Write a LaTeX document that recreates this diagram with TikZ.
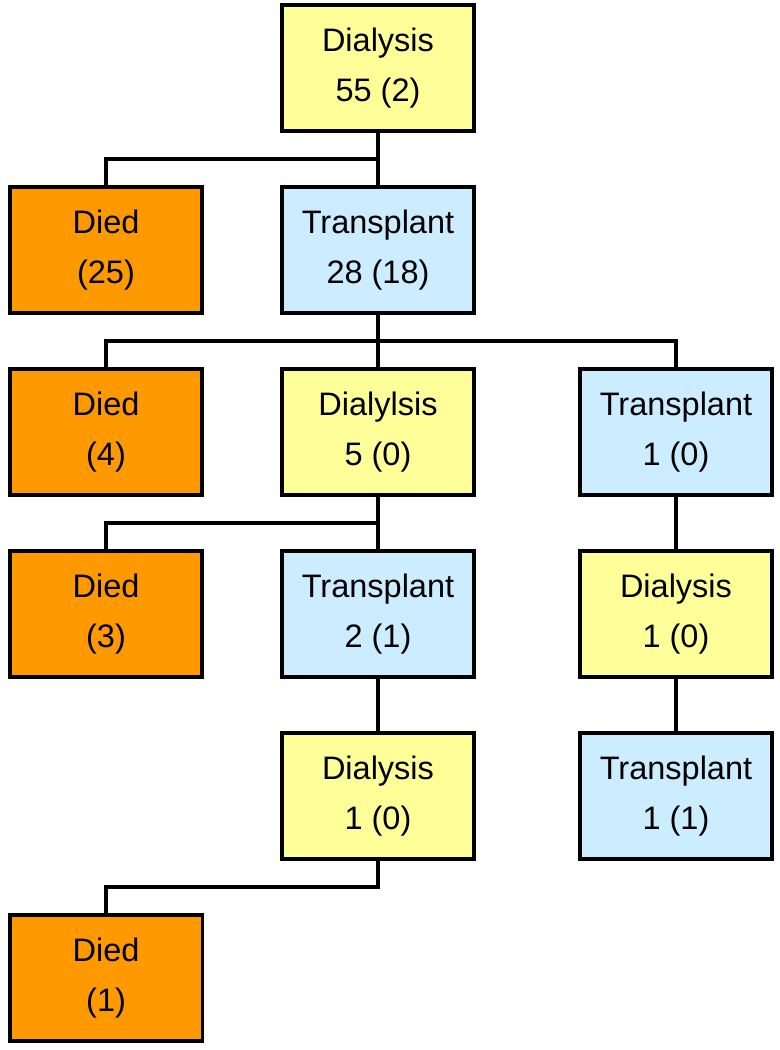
\documentclass[tikz,border=0pt]{standalone}
\usepackage{fontspec}
\setmainfont{Liberation Sans}
\usetikzlibrary{trees}
\definecolor{dialfill}{HTML}{FFFF99}
\definecolor{transfill}{HTML}{CCECFF}
\definecolor{diedfill}{HTML}{FF9900}
\tikzset{
    treenode/.style={align=center, draw=black, line width=2pt, minimum width=3.85cm, minimum height=2.53cm, inner sep=1pt, font=\fontsize{18.5}{28.5}\selectfont},
    dialysis/.style={treenode, fill=dialfill},
    transplant/.style={treenode, fill=transfill},
    died/.style={treenode, fill=diedfill},
    leftgrow/.style={grow via three points={one child at (0,-182) and two children at (-272,-182) and (0,-182)}}
}
\begin{document}
\begin{tikzpicture}[
  x=0.02cm, y=0.02cm,
  leftgrow,
  level 2/.style={grow via three points={one child at (0,-182) and two children at (-136,-182) and (136,-182)}},
  level 3/.style={leftgrow},
  edge from parent/.style={draw, line width=2pt},
  edge from parent path={(\tikzparentnode.south) -- ++(0,-26) -| (\tikzchildnode.north)}]

\useasboundingbox (0,0) rectangle (779,-1050);

\node[dialysis] (root) at (378,-68) {Dialysis\\55 (2)}
    child {node[died] (d1) {Died\\(25)}}
    child {node[transplant] (t1) {Transplant\\28 (18)}
        child {node[died] (d2) {Died\\(4)}}
        child {node[dialysis] (a1) {Dialylsis\\5 (0)}
            child {node[died] (d3) {Died\\(3)}}
            child {node[transplant] (t2) {Transplant\\2 (1)}
                child {node[dialysis] (a2) {Dialysis\\1 (0)}
                    child[xshift=-5.44cm] {node[died] (d4) {Died\\(1)}}
                }
            }
        }
        child[xshift=0.52cm] {node[transplant] (t3) {Transplant\\1 (0)}
            child {node[dialysis] (a3) {Dialysis\\1 (0)}
                child {node[transplant] (t4) {Transplant\\1 (1)}}
            }
        }
    };

\end{tikzpicture}
\end{document}
